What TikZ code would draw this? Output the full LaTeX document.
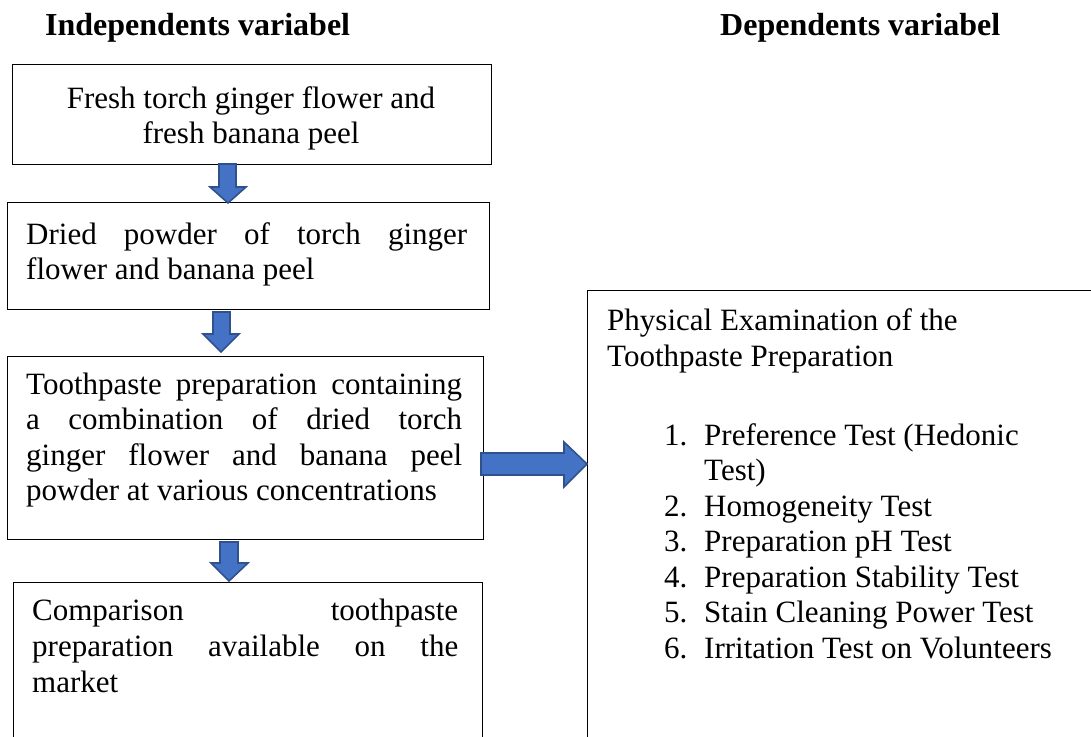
\documentclass[tikz,border=0pt]{standalone}
\usepackage{fontspec}
\setmainfont{Liberation Serif}
\usetikzlibrary{calc}
\definecolor{arrfill}{RGB}{68,114,196}
\definecolor{arrline}{RGB}{47,82,143}
\tikzset{
  box/.style={draw=black, line width=1.3pt, rectangle, inner sep=0pt, anchor=north west},
  txt/.style={inner sep=0pt, font=\fontsize{31}{35.5}\selectfont, anchor=base west},
  ctxt/.style={inner sep=0pt, font=\fontsize{31}{35.5}\selectfont, anchor=base},
  head/.style={inner sep=0pt, font=\fontsize{32}{36}\selectfont\bfseries, anchor=base west},
  blockarrow/.style={fill=arrfill, draw=arrline, line width=1.6pt, line join=miter}
}
\begin{document}
\begin{tikzpicture}[x=1pt,y=-1pt]
\useasboundingbox (0,0) rectangle (1091,736);
\clip (0,0) rectangle (1091,736);
% headings
\node[head] (h1) at (45,35) {Independents variabel};
\node[head] (h2) at (720,35) {Dependents variabel};
% boxes
\node[box, minimum width=479pt, minimum height=100pt] (b1) at (12,64) {};
\node[box, minimum width=482pt, minimum height=107pt] (b2) at (7,202) {};
\node[box, minimum width=476pt, minimum height=183pt] (b3) at (7,356) {};
\node[box, minimum width=469pt, minimum height=200pt] (b4) at (13,582) {};
\node[box, minimum width=540pt, minimum height=500pt] (b5) at (587,290) {};
% box 1 text
\node[ctxt] (t11) at (251,108) {Fresh torch ginger flower and};
\node[ctxt] (t12) at (251,143) {fresh banana peel};
% box 2 text
\node[txt] (t21) at (26,244) {\hbox to 441pt{Dried powder of torch ginger}};
\node[txt] (t22) at (26,279.5) {flower and banana peel};
% box 3 text
\node[txt] (t31) at (26,394) {\hbox to 436pt{Toothpaste preparation containing}};
\node[txt] (t32) at (26,429.5) {\hbox to 436pt{a combination of dried torch}};
\node[txt] (t33) at (26,465) {\hbox to 436pt{ginger flower and banana peel}};
\node[txt] (t34) at (26,500.5) {powder at various concentrations};
% box 4 text
\node[txt] (t41) at (32,620) {\hbox to 426pt{Comparison toothpaste}};
\node[txt] (t42) at (32,656) {\hbox to 426pt{preparation available on the}};
\node[txt] (t43) at (32,692) {market};
% right box text
\node[txt] (t51) at (607,330) {Physical Examination of the};
\node[txt] (t52) at (607,366) {Toothpaste Preparation};
\node[txt] (n1) at (664,445) {1.};
\node[txt] (l1) at (704,445) {Preference Test (Hedonic};
\node[txt] (l1b) at (704,480.5) {Test)};
\node[txt] (n2) at (664,516) {2.};
\node[txt] (l2) at (704,516) {Homogeneity Test};
\node[txt] (n3) at (664,551.5) {3.};
\node[txt] (l3) at (704,551.5) {Preparation pH Test};
\node[txt] (n4) at (664,587) {4.};
\node[txt] (l4) at (704,587) {Preparation Stability Test};
\node[txt] (n5) at (664,622.5) {5.};
\node[txt] (l5) at (704,622.5) {Stain Cleaning Power Test};
\node[txt] (n6) at (664,658) {6.};
\node[txt] (l6) at (704,658) {Irritation Test on Volunteers};
% block arrows
\coordinate (a1) at (228,164);
\draw[blockarrow] (a1) ++(-9,0) -- ++(17,0) -- ++(0,23) -- ++(10,0) -- (228,203) -- (210,187) -- (219,187) -- cycle;
\coordinate (a2) at (221,312);
\draw[blockarrow] (a2) ++(-8,0) -- ++(17,0) -- ++(0,22) -- ++(9,0) -- (221,352) -- (203,334) -- (213,334) -- cycle;
\coordinate (a3) at (481,464);
\draw[blockarrow] (a3) ++(0,-11) -- (564,453) -- (564,442) -- (b5.west |- 0,464) -- (564,487) -- (564,475) -- (481,475) -- cycle;
\coordinate (a4) at (229,542);
\draw[blockarrow] (a4) ++(-9,0) -- ++(18,0) -- ++(0,21) -- ++(10,0) -- (229,581) -- (211,563) -- (220,563) -- cycle;
\end{tikzpicture}
\end{document}
